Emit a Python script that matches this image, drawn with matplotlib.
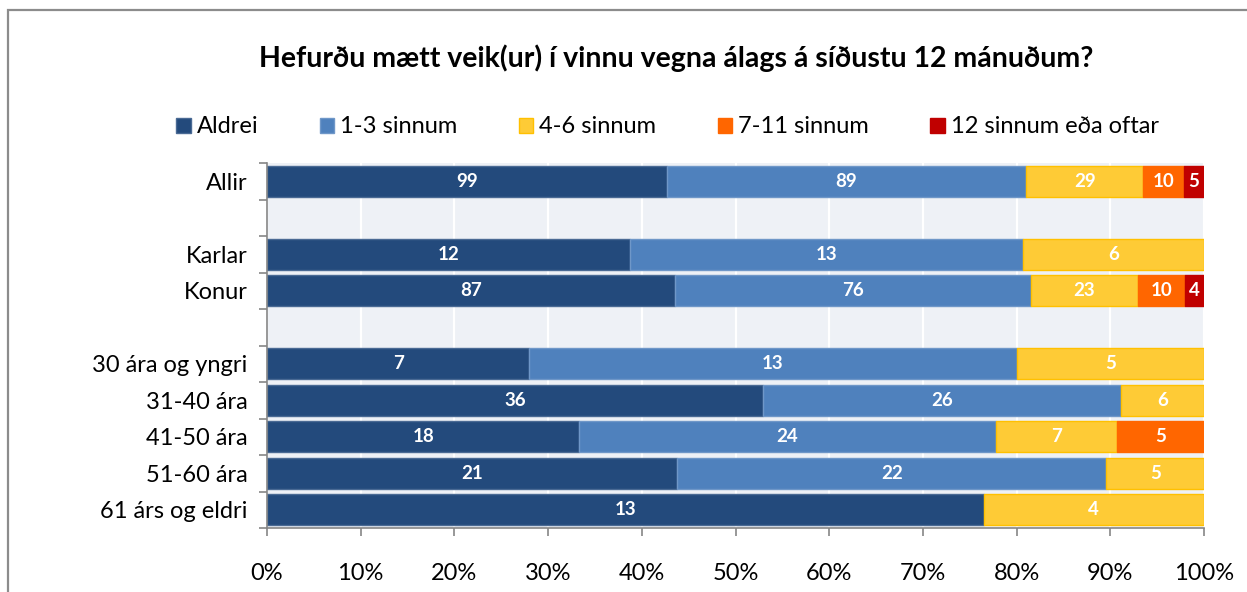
import matplotlib.pyplot as plt
import numpy as np
from matplotlib.patches import Rectangle

plt.rcParams['font.family'] = ['Lato', 'DejaVu Sans']

# Row labels, blank rows separate the groups
categories = ["Allir", "", "Karlar", "Konur", "", "30 ára og yngri",
              "31-40 ára", "41-50 ára", "51-60 ára", "61 árs og eldri"]
series_names = ["Aldrei", "1-3 sinnum", "4-6 sinnum", "7-11 sinnum",
                "12 sinnum eða oftar"]

# Counts of answers per row
aldrei = [99, 0, 12, 87, 0, 7, 36, 18, 21, 13]
sinnum_1_3 = [89, 0, 13, 76, 0, 13, 26, 24, 22, 0]
sinnum_4_6 = [29, 0, 6, 23, 0, 5, 6, 7, 5, 4]
sinnum_7_11 = [10, 0, 0, 10, 0, 0, 0, 5, 0, 0]
sinnum_12 = [5, 0, 0, 4, 0, 0, 0, 0, 0, 0]

colors = ["#234a7c", "#4f81bd", "#fecb36", "#ff6600", "#c00000"]
edges = ["#4a6a94", "#6f97c8", "#ffc000", "#ff6600", "#c00000"]

counts = np.array([aldrei, sinnum_1_3, sinnum_4_6, sinnum_7_11, sinnum_12], dtype=float)
totals = counts.sum(axis=0)
shares = np.divide(counts, totals, out=np.zeros_like(counts), where=totals > 0)

fig = plt.figure(figsize=(12.47, 5.92), dpi=100)
ax = fig.add_axes([267 / 1247, 1 - 528 / 592, (1204 - 267) / 1247, (528 - 163) / 592])
ax.set_facecolor("#eef1f6")

y = np.arange(len(categories))
left = np.zeros(len(categories))
handles = []
for i, name in enumerate(series_names):
    # no outline on empty segments
    lw = [1.0 if c > 0 else 0 for c in counts[i]]
    bars = ax.barh(y, shares[i], left=left, height=0.84, color=colors[i],
                   edgecolor=edges[i], linewidth=lw, label=name)
    handles.append(bars)
    for j in range(len(categories)):
        if counts[i, j] > 0:
            ax.text(left[j] + shares[i, j] / 2, y[j], f"{int(counts[i, j])}",
                    ha="center", va="center", color="white",
                    fontsize=13.5, fontweight="bold")
    left += shares[i]

ax.set_xlim(0, 1)
ax.set_ylim(len(categories) - 0.5, -0.5)

xt = np.arange(0, 1.01, 0.1)
ax.set_xticks(xt)
ax.set_xticklabels([f"{int(round(t * 100))}%" for t in xt], fontsize=17)
ax.tick_params(axis="x", length=6, width=1.2, color="#868686", pad=19)
ax.xaxis.grid(True, color="white", linewidth=1.6)
ax.set_axisbelow(True)

ax.set_yticks(y)
ax.set_yticklabels(categories, fontsize=17)
ax.set_yticks(np.arange(-0.5, len(categories), 1), minor=True)
ax.tick_params(axis="y", which="major", length=0, pad=14)
ax.tick_params(axis="y", which="minor", length=6, width=1.2, color="#868686")

for side in ["top", "right"]:
    ax.spines[side].set_visible(False)
for side in ["left", "bottom"]:
    ax.spines[side].set_color("#868686")
    ax.spines[side].set_linewidth(1.2)

fig.text(676 / 1247, 1 - 58 / 592,
         "Hefurðu mætt veik(ur) í vinnu vegna álags á síðustu 12 mánuðum?",
         ha="center", va="center", fontsize=20.5, fontweight="bold")

fig.legend(handles=handles, loc="center left", bbox_to_anchor=(176 / 1247, 1 - 127 / 592),
           ncol=5, frameon=False, fontsize=17, handlelength=0.62, handleheight=0.62,
           handletextpad=0.25, columnspacing=2.6, borderaxespad=0, borderpad=0)

# chart frame
fig.patches.append(Rectangle((8 / 1247, -0.05), 1.1, 1 - 10 / 592 + 0.05,
                             transform=fig.transFigure, fill=False,
                             edgecolor="#8c8c8c", linewidth=1.6))

fig.savefig("out.png", dpi=100)
